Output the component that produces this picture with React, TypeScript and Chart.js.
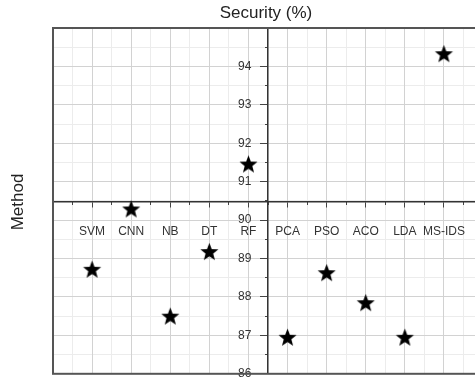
import React, { useEffect, useRef } from "react";
import { Chart, registerables } from "chart.js";

Chart.register(...registerables);

const categories = ["SVM", "CNN", "NB", "DT", "RF", "PCA", "PSO", "ACO", "LDA", "MS-IDS"];
const security = [88.72, 90.29, 87.5, 89.18, 91.46, 86.95, 88.63, 87.85, 86.95, 94.33];
const yTicks = [86, 87, 88, 89, 90, 91, 92, 93, 94];
const xTitle = "Security (%)";
const yTitle = "Method";

function makeStar(r: number): HTMLCanvasElement {
  const size = Math.ceil(r * 2 + 2);
  const c = document.createElement("canvas");
  c.width = size;
  c.height = size;
  const ctx = c.getContext("2d")!;
  const cx = size / 2;
  const cy = size / 2 + 0.8;
  ctx.beginPath();
  for (let i = 0; i < 10; i++) {
    const a = -Math.PI / 2 + (i * Math.PI) / 5;
    const rad = i % 2 === 0 ? r : r * 0.42;
    const x = cx + rad * Math.cos(a);
    const y = cy + rad * Math.sin(a);
    if (i === 0) ctx.moveTo(x, y);
    else ctx.lineTo(x, y);
  }
  ctx.closePath();
  ctx.fillStyle = "#000";
  ctx.fill();
  return c;
}

const framePlugin = {
  id: "frameAndTitles",
  afterDraw(chart: any) {
    const { ctx, chartArea } = chart;
    ctx.save();
    ctx.strokeStyle = "#555";
    ctx.lineWidth = 2;
    ctx.strokeRect(chartArea.left, chartArea.top, chartArea.right - chartArea.left, chartArea.bottom - chartArea.top);
    ctx.fillStyle = "#222";
    ctx.font = "17px 'Liberation Sans', Arial, sans-serif";
    ctx.textAlign = "center";
    ctx.textBaseline = "middle";
    ctx.fillText(xTitle, 266, 13);
    ctx.translate(18, 202);
    ctx.rotate(-Math.PI / 2);
    ctx.fillText(yTitle, 0, 0);
    ctx.restore();
  },
};

const pad = "\u2007\u2007 ";

export default function App() {
  const ref = useRef<HTMLCanvasElement>(null);
  useEffect(() => {
    if (!ref.current) return;
    const star = makeStar(9.5);
    const xCross = 90.47;
    const yCross = 4.5;
    const chart = new Chart(ref.current, {
      type: "scatter",
      data: {
        datasets: [
          {
            label: xTitle,
            data: security.map((v, i) => ({ x: i, y: v })),
            pointStyle: star as any,
            pointRadius: 9,
            backgroundColor: "#000",
            borderColor: "#000",
          },
        ],
      },
      options: {
        animation: false,
        responsive: false,
        layout: { padding: { left: 53, top: 28, right: 2, bottom: 7 } },
        plugins: { legend: { display: false }, tooltip: { enabled: false }, title: { display: false } },
        scales: {
          xMinor: {
            type: "linear",
            axis: "x",
            min: -1,
            max: 10,
            position: { y: xCross } as any,
            ticks: { stepSize: 0.5, callback: () => "", font: { size: 1 } },
            grid: {
              color: (c: any) => (Number.isInteger(c.tick?.value) ? "rgba(0,0,0,0)" : "#ececec"),
              tickColor: "#444",
              tickLength: 3,
            },
            border: { display: false },
          },
          yMinor: {
            type: "linear",
            axis: "y",
            min: 86,
            max: 95,
            position: { x: yCross } as any,
            ticks: { stepSize: 0.5, callback: () => "", font: { size: 1 } },
            grid: {
              color: (c: any) => (Number.isInteger(c.tick?.value) ? "rgba(0,0,0,0)" : "#ececec"),
              tickColor: "#444",
              tickLength: 3,
            },
            border: { display: false },
          },
          x: {
            type: "linear",
            min: -1,
            max: 10,
            position: { y: xCross } as any,
            ticks: {
              stepSize: 1,
              autoSkip: false,
              maxRotation: 0,
              padding: 17,
              color: "#333",
              font: { size: 12, family: "'Liberation Sans', Arial, sans-serif" },
              callback: (v: any) => categories[v] ?? "",
            },
            grid: { color: "#d2d2d2", tickColor: "#444", tickLength: 5 },
            border: { display: true, color: "#333", width: 1.5 },
          },
          y: {
            type: "linear",
            min: 86,
            max: 95,
            position: { x: yCross } as any,
            afterBuildTicks: (axis: any) => {
              axis.ticks = [...yTicks, 95].map((v) => ({ value: v }));
            },
            ticks: {
              padding: 3,
              color: "#333",
              font: { size: 12, family: "'Liberation Sans', Arial, sans-serif" },
              callback: (v: any) => (yTicks.includes(v) ? String(v) + pad : ""),
            },
            grid: { color: "#d2d2d2", tickColor: "#444", tickLength: 7 },
            border: { display: true, color: "#333", width: 1.5 },
          },
        },
      },
      plugins: [framePlugin],
    });
    return () => chart.destroy();
  }, []);
  return (
    <div style={{ position: "fixed", left: 0, top: 0, width: 475, height: 381, overflow: "hidden", background: "#fff" }}>
      <canvas ref={ref} width={500} height={384} style={{ display: "block" }} />
    </div>
  );
}
